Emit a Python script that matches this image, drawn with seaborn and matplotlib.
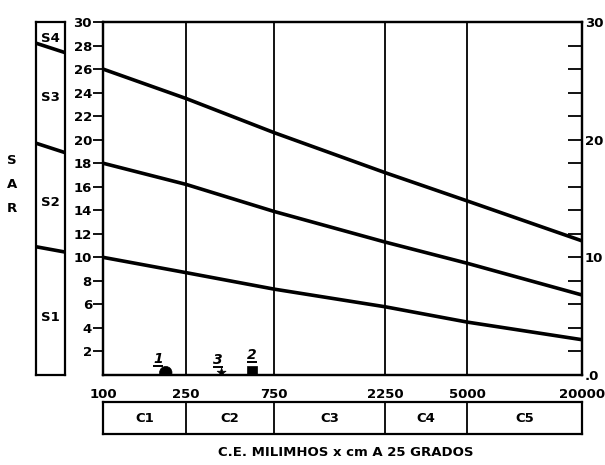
import numpy as np
import pandas as pd
import matplotlib
matplotlib.use("Agg")
import matplotlib.pyplot as plt
import matplotlib.transforms as mtransforms
import seaborn as sns

# -----------------------------
# Data
# -----------------------------
ce_ticks = [100, 250, 750, 2250, 5000, 20000]
ce_labels = ["100", "250", "750", "2250", "5000", "20000"]
c_classes = ["C1", "C2", "C3", "C4", "C5"]

# SAR limits of the sodium classes at each CE tick
limite_s1_s2 = [10.0, 8.7, 7.3, 5.8, 4.5, 3.0]
limite_s2_s3 = [18.0, 16.2, 13.9, 11.3, 9.5, 6.8]
limite_s3_s4 = [26.0, 23.5, 20.6, 17.2, 14.8, 11.4]

# same limits continued into the small S column (left edge, right edge)
s_col_left = [10.9, 19.7, 28.2]
s_col_right = [10.45, 18.9, 27.4]
s_classes = ["S1", "S2", "S3", "S4"]
s_label_sar = [4.9, 14.7, 23.6, 28.6]

# water samples
muestras = ["1", "2", "3"]
muestra_ce = [200, 570, 390]
muestra_sar = [0.2, 0.4, 0.2]

sar_left_ticks = list(range(2, 31, 2))

# -----------------------------
# Piecewise log scale of the CE axis (as printed)
# -----------------------------
tick_px = np.array([0, 83, 171, 282, 364, 479]) / 479.0
log_ticks = np.log10(ce_ticks)


def fwd(x):
    x = np.clip(np.asarray(x, dtype=float), 1e-6, None)
    return np.interp(np.log10(x), log_ticks, tick_px)


def inv(p):
    return 10 ** np.interp(np.asarray(p, dtype=float), tick_px, log_ticks)


sns.set_style("white")
plt.rcParams["font.family"] = ["DejaVu Sans"]
plt.rcParams["font.weight"] = "bold"
plt.rcParams["font.size"] = 9
plt.rcParams["axes.linewidth"] = 1.6
plt.rcParams["axes.edgecolor"] = "black"
plt.rcParams["text.color"] = "black"
plt.rcParams["xtick.color"] = "black"
plt.rcParams["ytick.color"] = "black"

W, H = 605, 465


def box(x0, y0, x1, y1):
    return [x0 / W, 1 - y1 / H, (x1 - x0) / W, (y1 - y0) / H]


fig = plt.figure(figsize=(W / 100, H / 100), dpi=100)
ax = fig.add_axes(box(103, 22, 582, 375))
ax_s = fig.add_axes(box(36, 22, 65, 375))
ax_c = fig.add_axes(box(103, 402, 582, 434), sharex=ax)

ax.set_xscale("function", functions=(fwd, inv))

# -----------------------------
# Main diagram
# -----------------------------
lines = pd.DataFrame({
    "ce": ce_ticks * 3,
    "sar": limite_s1_s2 + limite_s2_s3 + limite_s3_s4,
    "limite": ["S1/S2"] * 6 + ["S2/S3"] * 6 + ["S3/S4"] * 6,
})
sns.lineplot(data=lines, x="ce", y="sar", units="limite", estimator=None,
             color="black", lw=2.6, ax=ax, legend=False)

for v in ce_ticks[1:-1]:
    ax.axvline(v, color="black", lw=1.3)

pts = pd.DataFrame({"ce": muestra_ce, "sar": muestra_sar, "muestra": muestras})
sns.scatterplot(data=pts, x="ce", y="sar", style="muestra", size="muestra",
                markers={"1": "o", "2": "s", "3": "*"},
                sizes={"1": 80, "2": 45, "3": 45},
                color="black", edgecolor="black", linewidth=0.5,
                legend=False, ax=ax, zorder=5)

# sample numbers, hand-written and underlined
offsets = {"1": (-8, 10), "2": (0, 11), "3": (-4, 9)}
for m, x, y in zip(muestras, muestra_ce, muestra_sar):
    dx, dy = offsets[m]
    ax.annotate(m, (x, y), xytext=(dx, dy), textcoords="offset pixels",
                ha="center", va="baseline", fontsize=10, style="italic")
    under = mtransforms.offset_copy(ax.transData, fig=fig, x=dx, y=dy - 3,
                                    units="dots")
    ax.plot([x], [y], marker="_", markersize=7, mew=1.4, color="black",
            transform=under, clip_on=False)

ax.set_xlim(ce_ticks[0], ce_ticks[-1])
ax.set_ylim(0, 30)
ax.set_xticks(ce_ticks)
ax.set_xticklabels(ce_labels)
ax.xaxis.set_minor_locator(plt.NullLocator())
ax.set_yticks(sar_left_ticks)
ax.set_yticklabels([str(t) for t in sar_left_ticks])
ax.tick_params(axis="y", direction="out", length=7, width=1.3, pad=1,
               labelsize=9.5)
ax.tick_params(axis="x", direction="out", length=4, width=1.3, pad=5,
               labelsize=9.5)
ax.set_xlabel("")
ax.set_ylabel("")

ax2 = ax.twinx()
ax2.set_ylim(0, 30)
ax2.set_yticks([0, 10, 20, 30])
ax2.set_yticklabels([".0", "10", "20", "30"])
ax2.set_yticks(list(range(0, 31, 2)), minor=True)
ax2.tick_params(axis="y", which="both", direction="in", length=10,
                width=1.3, pad=2, labelsize=9.5)
ax2.tick_params(axis="y", which="minor", labelright=False)

# -----------------------------
# S classes column
# -----------------------------
ax_s.set_xlim(0, 1)
ax_s.set_ylim(0, 30)
for a, b in zip(s_col_left, s_col_right):
    sns.lineplot(x=[0, 1], y=[a, b], color="black", lw=2.6, ax=ax_s)
for lab, y in zip(s_classes, s_label_sar):
    ax_s.text(0.5, y, lab, ha="center", va="center", fontsize=9.5)
ax_s.set_xticks([])
ax_s.set_yticks([])

for i, ch in enumerate("SAR"):
    fig.text(12 / W, 1 - (160 + 24 * i) / H, ch, ha="center", va="center",
             fontsize=9.5)

# -----------------------------
# C classes strip
# -----------------------------
ax_c.set_ylim(0, 1)
for v in ce_ticks[1:-1]:
    ax_c.axvline(v, color="black", lw=1.3)
for lab, a, b in zip(c_classes, ce_ticks[:-1], ce_ticks[1:]):
    mid = inv((fwd(a) + fwd(b)) / 2)
    ax_c.text(mid, 0.5, lab, ha="center", va="center", fontsize=9.5)
ax_c.tick_params(axis="both", which="both", length=0, labelbottom=False,
                 labelleft=False)
ax_c.set_yticks([])

fig.text(346 / W, 1 - 452 / H, "C.E. MILIMHOS x cm A 25 GRADOS",
         ha="center", va="center", fontsize=9.5)

fig.savefig("out.png", dpi=100)
